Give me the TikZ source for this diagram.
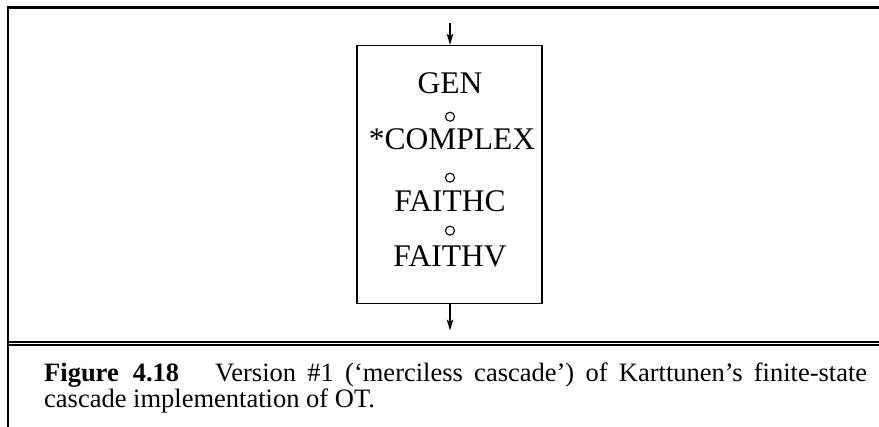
\documentclass[tikz,border=0pt]{standalone}
\usepackage{fontspec}
\setmainfont{Liberation Serif}
\usetikzlibrary{arrows.meta}
\tikzset{
  frame/.style={line width=2pt},
  conn/.style={line width=1.3pt,-{Stealth[length=11pt,width=6.5pt,inset=2.5pt]}},
  stage/.style={anchor=base,inner sep=0pt,font=\fontsize{31.5}{36}\selectfont},
  comp/.style={circle,draw,line width=1.1pt,minimum size=9pt,inner sep=0pt},
  cascadebox/.style={draw,line width=1.5pt,minimum width=185pt,minimum height=257.8pt,inner sep=0pt},
  captxt/.style={anchor=north west,inner sep=0pt,align=left,font=\fontsize{26.5}{22}\selectfont},
}
\begin{document}
\begin{tikzpicture}[x=1pt,y=-1pt]
\useasboundingbox (0,0) rectangle (879,427);
% frame
\draw[line width=2.6pt] (6.8,7.5) -- (879,7.5);
\draw[frame] (8,6.5) -- (8,427);
\draw[line width=1.8pt] (7,341.7) -- (879,341.7);
\draw[line width=1.8pt] (7,345.2) -- (879,345.2);
% box
\node[cascadebox] (box) at (449.5,174.4) {};
\coordinate (in) at (450,23);
\coordinate (out) at (450,330.5);
\draw[conn] (in) -- (box.north -| in);
\draw[conn] (box.south -| out) -- (out);
% stages
\node[stage] (gen) at (450,93.3) {GEN};
\node[comp] (c1) at (450,116.7) {};
\node[stage] (complex) at (452,149.7) {*COMPLEX};
\node[comp] (c2) at (450,177.7) {};
\node[stage] (faithc) at (450,212) {FAITHC};
\node[comp] (c3) at (450,230.7) {};
\node[stage] (faithv) at (450,267) {FAITHV};
% caption
\node[captxt] (cap) at (44,363) {\makebox[823pt][s]{\textbf{Figure\hspace{14pt}4.18}\hspace{36pt}Version \#1 (‘merciless cascade’) of Karttunen’s finite-state}\\cascade implementation of OT.};
\end{tikzpicture}
\end{document}
